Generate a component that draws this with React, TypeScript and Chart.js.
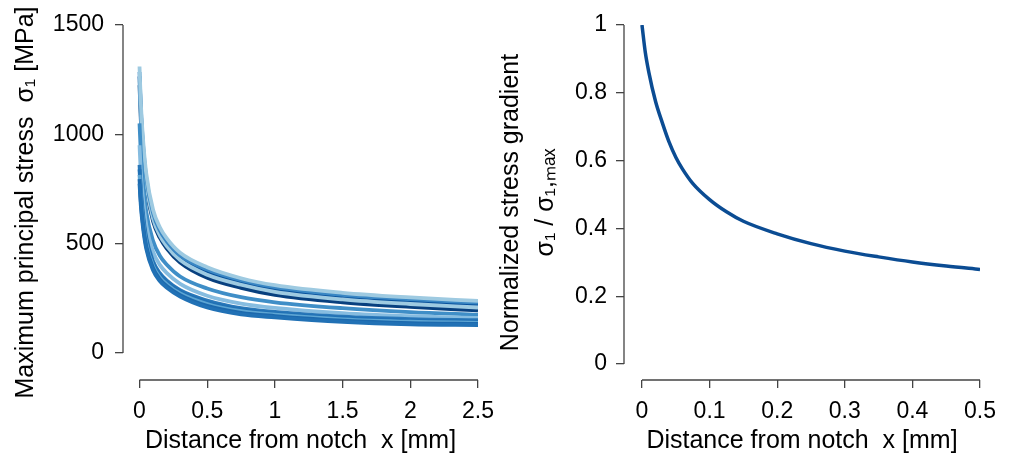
import React, { useEffect, useRef } from "react";
import { Chart, registerables } from "chart.js";

Chart.register(...registerables);

// ---------- Data: left panel (maximum principal stress vs distance) ----------
const stressX = [0, 0.01, 0.025, 0.05, 0.1, 0.15, 0.2, 0.3, 0.5, 0.75, 1, 1.5, 2, 2.5];
const curveA = [1310, 1140, 985, 820, 655, 575, 525, 458, 392, 342, 310, 275, 254, 238];
const curveB = [1285, 1115, 962, 800, 640, 560, 512, 446, 382, 333, 301, 266, 246, 230];
const curveC = [1265, 1098, 946, 786, 628, 549, 501, 436, 372, 324, 292, 258, 237, 221];
const curveD = [1245, 1080, 930, 772, 615, 538, 490, 425, 358, 312, 280, 245, 224, 208];
const curveE = [1225, 1062, 914, 758, 603, 527, 479, 414, 344, 298, 266, 232, 211, 195];
const curveF = [1050, 910, 782, 645, 513, 445, 405, 350, 295, 255, 232, 205, 187, 175];
const curveG = [950, 823, 708, 584, 464, 403, 366, 316, 262, 226, 206, 182, 168, 160];
const curveH = [860, 745, 641, 528, 420, 365, 332, 287, 240, 205, 188, 166, 155, 150];
const curveI = [840, 728, 626, 516, 410, 356, 324, 280, 232, 198, 181, 160, 149, 144];
const curveJ = [815, 706, 607, 501, 398, 346, 315, 272, 224, 191, 175, 154, 143, 138];
const curveK = [795, 689, 592, 488, 388, 337, 307, 265, 216, 184, 169, 148, 137, 133];
const curveL = [775, 672, 577, 476, 378, 329, 299, 258, 208, 177, 163, 142, 131, 128];
// drawing order: lower group, middle pair, then upper group (light first, navy last)
const stressCurves = [curveL, curveK, curveJ, curveI, curveH, curveG, curveF, curveA, curveB, curveD, curveC, curveE];
const stressColors = ["#2171b5", "#1c69ad", "#5da5d3", "#2171b5", "#2a78b9", "#86bce0", "#3f8ec7", "#9ecae1", "#3a87c4", "#9ecae1", "#08519c", "#08407f"];
const stressXTicks = [0, 0.5, 1, 1.5, 2, 2.5];
const stressYTicks = [0, 500, 1000, 1500];

// ---------- Data: right panel (normalized stress gradient) ----------
const normX = [0, 0.005, 0.01, 0.02, 0.03, 0.04, 0.05, 0.06, 0.075, 0.1, 0.125, 0.15, 0.2, 0.25, 0.3, 0.35, 0.4, 0.45, 0.5];
const normY = [1.0, 0.918, 0.862, 0.775, 0.712, 0.655, 0.61, 0.575, 0.533, 0.485, 0.449, 0.421, 0.384, 0.355, 0.333, 0.316, 0.301, 0.289, 0.279];
const normXTicks = [0, 0.1, 0.2, 0.3, 0.4, 0.5];
const normYTicks = [0, 0.2, 0.4, 0.6, 0.8, 1];

const FONT = "'Liberation Sans', Arial, Helvetica, sans-serif";
const AXIS_COLOR = "#444444";

const axisLinePlugin = {
  id: "axisLines",
  afterDraw(chart: any, _args: any, opts: any) {
    const { ctx, chartArea, scales } = chart;
    const xs = scales.x;
    const ys = scales.y;
    ctx.save();
    ctx.strokeStyle = AXIS_COLOR;
    ctx.lineWidth = 1.3;
    ctx.beginPath();
    ctx.moveTo(chartArea.left, ys.getPixelForValue(opts.yMax));
    ctx.lineTo(chartArea.left, ys.getPixelForValue(opts.yMin));
    ctx.moveTo(xs.getPixelForValue(opts.xMin), chartArea.bottom);
    ctx.lineTo(xs.getPixelForValue(opts.xMax), chartArea.bottom);
    ctx.stroke();
    ctx.restore();
  },
};

function makeScales(p: {
  xMin: number; xMax: number; yMin: number; yMax: number;
  xTicks: number[]; yTicks: number[];
  yWidth: number; xHeight: number;
  yTitle: string | string[]; yTitlePad: number; yLineHeight: number;
  yPad: number;
}) {
  return {
    x: {
      type: "linear",
      min: p.xMin,
      max: p.xMax,
      afterBuildTicks: (s: any) => { s.ticks = p.xTicks.map((v) => ({ value: v })); },
      afterFit: (s: any) => { s.height = p.xHeight; },
      border: { display: false },
      grid: { drawOnChartArea: false, drawTicks: true, tickLength: 8, tickColor: AXIS_COLOR, lineWidth: 1.3 },
      ticks: { color: "#000", font: { family: FONT, size: 23 }, padding: 10, maxRotation: 0, autoSkip: false, callback: (v: any) => String(v) },
      title: { display: true, text: "Distance from notch  x [mm]", color: "#000", font: { family: FONT, size: 25 }, padding: { top: 0, bottom: 3 } },
    },
    y: {
      type: "linear",
      min: p.yMin,
      max: p.yMax,
      afterBuildTicks: (s: any) => { s.ticks = p.yTicks.map((v) => ({ value: v })); },
      afterFit: (s: any) => { s.width = p.yWidth; },
      border: { display: false },
      grid: { drawOnChartArea: false, drawTicks: true, tickLength: 8, tickColor: AXIS_COLOR, lineWidth: 1.3 },
      ticks: { color: "#000", font: { family: FONT, size: 23 }, padding: p.yPad, autoSkip: false, callback: (v: any) => String(v) },
      title: { display: true, text: p.yTitle, color: "#000", font: { family: FONT, size: 25, lineHeight: p.yLineHeight }, padding: { top: p.yTitlePad, bottom: 0 } },
    },
  };
}

function Panel(props: { left: number; width: number; config: () => any }) {
  const ref = useRef<HTMLCanvasElement | null>(null);
  useEffect(() => {
    if (!ref.current) return;
    const chart = new Chart(ref.current, props.config());
    return () => chart.destroy();
  }, []);
  return (
    <canvas
      ref={ref}
      width={props.width}
      height={459}
      style={{ position: "absolute", left: props.left, top: 0, width: props.width, height: 459 }}
    />
  );
}

function leftConfig() {
  return {
    type: "line",
    data: {
      datasets: stressCurves.map((c, i) => ({
        data: stressX.map((x, j) => ({ x, y: c[j] })),
        borderColor: stressColors[i],
        borderWidth: 3.8,
        pointRadius: 0,
        fill: false,
        cubicInterpolationMode: "monotone",
      })),
    },
    options: {
      animation: false,
      responsive: false,
      devicePixelRatio: 1,
      layout: { padding: { left: 0, top: 25, right: 32, bottom: 0 } },
      plugins: {
        legend: { display: false },
        tooltip: { enabled: false },
        axisLines: { xMin: 0, xMax: 2.5, yMin: 0, yMax: 1500 },
      },
      scales: makeScales({
        xMin: -0.122, xMax: 2.5, yMin: -123.5, yMax: 1500,
        xTicks: stressXTicks, yTicks: stressYTicks,
        yWidth: 123, xHeight: 79,
        yTitle: "Maximum principal stress  σ₁ [MPa]", yTitlePad: 11, yLineHeight: 1.2,
        yPad: 11,
      }),
    },
    plugins: [axisLinePlugin],
  };
}

function rightConfig() {
  return {
    type: "line",
    data: {
      datasets: [{
        data: normX.map((x, j) => ({ x, y: normY[j] })),
        borderColor: "#0b4c93",
        borderWidth: 3.5,
        pointRadius: 0,
        fill: false,
        cubicInterpolationMode: "monotone",
      }],
    },
    options: {
      animation: false,
      responsive: false,
      devicePixelRatio: 1,
      layout: { padding: { left: 0, top: 25, right: 29, bottom: 0 } },
      plugins: {
        legend: { display: false },
        tooltip: { enabled: false },
        axisLines: { xMin: 0, xMax: 0.5, yMin: 0, yMax: 1 },
      },
      scales: makeScales({
        xMin: -0.0266, xMax: 0.5, yMin: -0.0472, yMax: 1,
        xTicks: normXTicks, yTicks: normYTicks,
        yWidth: 137, xHeight: 79,
        yTitle: ["Normalized stress gradient", "σ₁ / σ₁,ₘₐₓ"], yTitlePad: 7, yLineHeight: 1.4,
        yPad: 9,
      }),
    },
    plugins: [axisLinePlugin],
  };
}

export default function App() {
  return (
    <div style={{ position: "fixed", left: 0, top: 0, width: 1009, height: 459, background: "#fff", overflow: "hidden" }}>
      <Panel left={0} width={510} config={leftConfig} />
      <Panel left={487} width={522} config={rightConfig} />
    </div>
  );
}
